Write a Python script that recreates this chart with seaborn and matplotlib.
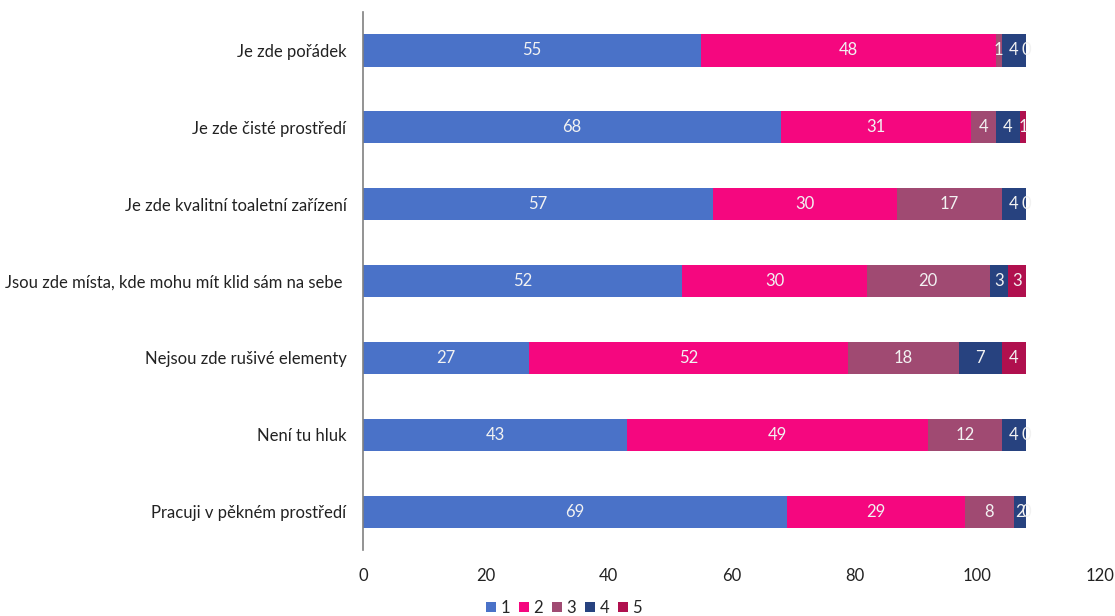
import numpy as np
import pandas as pd
import matplotlib
matplotlib.use("Agg")
import matplotlib.pyplot as plt
import seaborn as sns
from matplotlib.patches import Patch

categories = [
    "Je zde pořádek",
    "Je zde čisté prostředí",
    "Je zde kvalitní toaletní zařízení",
    "Jsou zde místa, kde mohu mít klid sám na sebe ",
    "Nejsou zde rušivé elementy",
    "Není tu hluk",
    "Pracuji v pěkném prostředí",
]
series_names = ["1", "2", "3", "4", "5"]
s1 = [55, 68, 57, 52, 27, 43, 69]
s2 = [48, 31, 30, 30, 52, 49, 29]
s3 = [1, 4, 17, 20, 18, 12, 8]
s4 = [4, 4, 4, 3, 7, 4, 2]
s5 = [0, 1, 0, 3, 4, 0, 0]
colors = ["#4A72C8", "#F5077F", "#A04A72", "#27427F", "#B0104E"]
xticks = [0, 20, 40, 60, 80, 100, 120]

sns.set_theme(style="white")
plt.rcParams["font.family"] = ["Lato", "DejaVu Sans"]

series = [s1, s2, s3, s4, s5]
vals = np.array(series, dtype=float)
cum = np.cumsum(vals, axis=0)

fig = plt.figure(figsize=(11.15, 6.16), dpi=100)
ax = fig.add_axes([0.3256, 0.107, 0.661, 0.8735])

for i in range(len(series) - 1, -1, -1):
    df = pd.DataFrame({"cat": categories, "val": cum[i]})
    sns.barplot(data=df, x="val", y="cat", color=colors[i], width=0.42,
                saturation=1, ax=ax, orient="h", linewidth=0)

for i in range(len(series)):
    for j in range(len(categories)):
        ax.text(cum[i][j] - vals[i][j] / 2, j, f"{int(vals[i][j])}",
                ha="center", va="center", color="#F2F2F2", fontsize=12)

ax.set_xlim(0, 120)
ax.set_ylim(len(categories) - 0.5, -0.5)
ax.set_xticks(xticks)
ax.set_xticklabels([str(t) for t in xticks], fontsize=12, color="#222222")
ax.tick_params(axis="y", labelsize=12, labelcolor="#222222", length=0, pad=12)
ax.tick_params(axis="x", length=0, pad=13)
ax.set_xlabel("")
ax.set_ylabel("")
for s in ["top", "right", "bottom"]:
    ax.spines[s].set_visible(False)
ax.spines["left"].set_color("#808080")
ax.spines["left"].set_linewidth(1.2)

handles = [Patch(facecolor=c, edgecolor="none") for c in colors]
fig.legend(handles, series_names, loc="lower center", bbox_to_anchor=(0.506, -0.024),
           ncol=5, frameon=False, handlelength=0.6, handleheight=0.6,
           handletextpad=0.25, columnspacing=0.55, fontsize=12)

fig.savefig("out.png", dpi=100)
